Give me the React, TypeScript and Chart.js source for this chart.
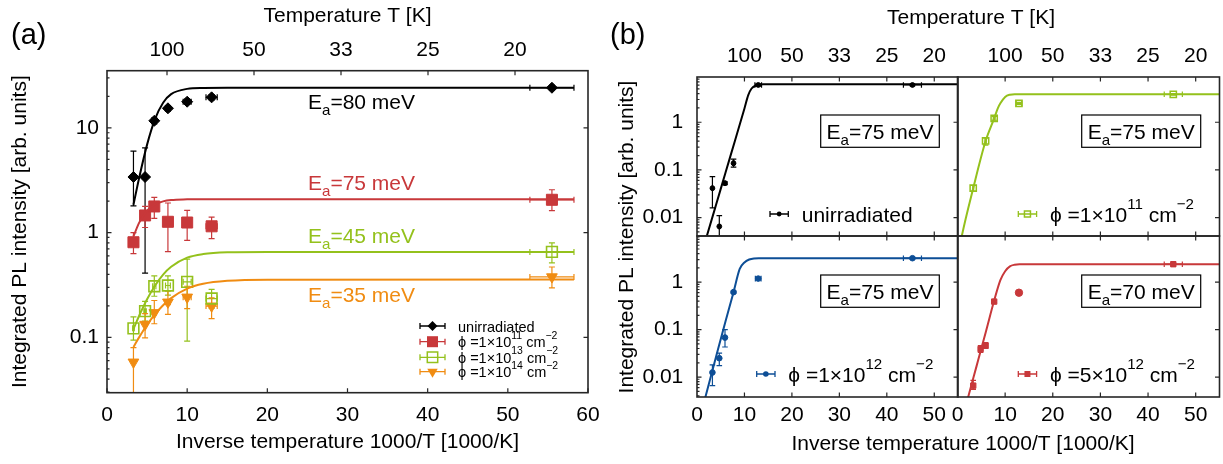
import React, { useEffect, useRef } from 'react';
import { Chart, registerables } from 'chart.js';
Chart.register(...registerables);

const W = 1223;
const H = 464;
const FONT = "'Liberation Sans', Arial, Helvetica, sans-serif";

const BLACK = '#000000';
const RED = '#c8383a';
const GREEN = '#94c11c';
const ORANGE = '#f08c12';
const BLUE = '#0d4e96';
const FRAME = '#262626';

// ================= Panel (a) data =================
const aX = [3.3, 4.75, 5.9, 7.6, 10, 13.05, 55.5];
const aXErr = [0.1, 0.15, 0.2, 0.3, 0.5, 0.7, 2.75];
const aUnirr = [3.4, 3.4, 11.7, 15.4, 17.8, 19.6, 24.2];
const aUnirrLo = [1.8, 0.41, 10.9, 14.5, 16.8, 18.5, 23.0];
const aUnirrHi = [6.0, 6.45, 12.5, 16.3, 18.9, 20.8, 25.5];
const aPhi11 = [0.81, 1.46, 1.78, 1.27, 1.25, 1.15, 2.06];
const aPhi11Lo = [0.63, 1.12, 1.37, 0.66, 0.845, 0.877, 1.62];
const aPhi11Hi = [1.0, 1.78, 2.17, 1.92, 1.63, 1.41, 2.57];
const aPhi13 = [0.122, 0.178, 0.308, 0.313, 0.339, 0.235, 0.655];
const aPhi13Lo = [0.094, 0.143, 0.247, 0.253, 0.092, 0.189, 0.515];
const aPhi13Hi = [0.157, 0.221, 0.387, 0.387, 0.56, 0.287, 0.798];
const aPhi14 = [0.058, 0.133, 0.172, 0.217, 0.242, 0.199, 0.378];
const aPhi14Lo = [0.02, 0.099, 0.135, 0.166, 0.188, 0.151, 0.297];
const aPhi14Hi = [0.08, 0.169, 0.225, 0.276, 0.308, 0.239, 0.47];
const aFitX = [3.3, 4, 5, 6, 7, 8, 10, 12, 15, 20, 58.25];
const aFit80 = [1.85, 3.31, 6.93, 12.2, 17.4, 21.0, 23.6, 24.1, 24.2, 24.2, 24.2];
const aFit75 = [0.92, 1.24, 1.62, 1.86, 1.99, 2.05, 2.08, 2.09, 2.09, 2.09, 2.09];
const aFit45 = [0.12, 0.16, 0.231, 0.313, 0.398, 0.473, 0.577, 0.625, 0.649, 0.655, 0.655];
const aFit35 = [0.081, 0.1, 0.132, 0.167, 0.203, 0.237, 0.292, 0.325, 0.347, 0.356, 0.357];
const aXTicks = [0, 10, 20, 30, 40, 50, 60];
const aXTickLabels = ['0', '10', '20', '30', '40', '50', '60'];
const aYTicks = [0.1, 1, 10];
const aYTickLabels = ['0.1', '1', '10'];
const aTTicks = [10, 20, 30, 40, 50];
const aTTickLabels = ['100', '50', '33', '25', '20'];

// ================= Panel (b) data =================
const bXTicks = [0, 10, 20, 30, 40, 50];
const bXTickLabels = ['0', '10', '20', '30', '40', '50'];
const bTTicks = [10, 20, 30, 40, 50];
const bTTickLabels = ['100', '50', '33', '25', '20'];
const bYTicks = [0.01, 0.1, 1];
const bYTickLabels = ['0.01', '0.1', '1'];

// top-left: unirradiated
const tlX = [3.25, 4.7, 5.9, 7.7, 12.9, 45.4];
const tlY = [0.0413, 0.0065, 0.0525, 0.138, 6.05, 6.05];
const tlLo = [0.016, 0.002, 0.049, 0.114, 5.75, 5.8];
const tlHi = [0.072, 0.011, 0.056, 0.168, 6.35, 6.3];
const tlXErr = [0.1, 0.1, 0.15, 0.2, 0.7, 1.9];
const tlFitX = [1.2, 2.04, 4, 6, 8, 10, 10.8, 11.5, 12.5, 14, 55];
const tlFitY = [0.0021, 0.004, 0.0183, 0.087, 0.41, 1.95, 3.7, 5.1, 5.95, 6.26, 6.26];

// top-right: 1e11
const trX = [3.3, 5.9, 7.7, 12.9, 45.3];
const trY = [0.0413, 0.405, 1.21, 2.5, 3.86];
const trLo = [0.036, 0.33, 1.1, 2.38, 3.7];
const trHi = [0.047, 0.47, 1.33, 2.62, 4.0];
const trXErr = [0.1, 0.15, 0.2, 0.6, 1.9];
const trFitX = [0.4, 0.88, 3.3, 5.9, 7.7, 8.5, 9, 10, 11, 12, 55];
const trFitY = [0.0022, 0.004, 0.0413, 0.405, 1.21, 2.0, 2.5, 3.4, 3.78, 3.86, 3.86];

// bottom-left: 1e12
const blX = [3.25, 4.7, 5.9, 7.7, 12.9, 45.4];
const blY = [0.0125, 0.025, 0.068, 0.616, 1.19, 3.2];
const blLo = [0.0066, 0.0174, 0.043, 0.58, 1.13, 3.05];
const blHi = [0.018, 0.032, 0.1, 0.65, 1.25, 3.35];
const blXErr = [0.1, 0.1, 0.15, 0.2, 0.6, 1.9];
const blFitX = [1.2, 1.83, 4, 6, 7.7, 9, 10, 11, 12, 13, 55];
const blFitY = [0.0024, 0.004, 0.0264, 0.148, 0.616, 1.9, 2.6, 3.0, 3.17, 3.2, 3.2];

// bottom-right: 5e12
const brX = [3.3, 4.85, 5.9, 7.7, 12.9, 45.3];
const brY = [0.0066, 0.039, 0.046, 0.39, 0.6, 2.39];
const brLo = [0.0055, 0.033, 0.04, 0.37, 0.6, 2.3];
const brHi = [0.0085, 0.046, 0.053, 0.41, 0.6, 2.48];
const brXErr = [0.1, 0.15, 0.2, 0.2, 0, 1.9];
const brFitX = [1.5, 2.3, 4, 6, 7.7, 9, 10, 11, 12, 13, 55];
const brFitY = [0.002, 0.004, 0.017, 0.094, 0.41, 1.1, 1.7, 2.15, 2.33, 2.39, 2.39];

// ================= helpers =================
type Part = { t: string; s?: 'sub' | 'sup' };
type TextItem = {
  parts: Part[]; x: number; y: number; size: number; color?: string;
  align?: 'left' | 'center' | 'right'; baseline?: 'alphabetic' | 'middle'; rotate?: number;
};
type ErrSet = { xs: number[]; ys: number[]; lo?: number[]; hi?: number[]; xerr?: number[]; color: string; cap: number; width: number };
type TickSet = { side: 'bottom' | 'top' | 'left' | 'right'; scale: string; values: number[]; len: number };
type LegendItem = { x1: number; x2: number; y: number; marker: string; r: number; color: string; cap: number; textX: number; textY: number; size: number; parts: Part[] };
type Decor = { errors?: ErrSet[]; ticks?: TickSet[]; texts?: TextItem[]; boxes?: number[][]; legend?: LegendItem[] };

const fnt = (size: number) => `${size}px ${FONT}`;

function drawRich(ctx: CanvasRenderingContext2D, it: TextItem) {
  const { parts, size } = it;
  const sz = (p: Part) => (p.s ? size * 0.72 : size);
  const widths = parts.map((p) => { ctx.font = fnt(sz(p)); return ctx.measureText(p.t).width; });
  const total = widths.reduce((a, b) => a + b, 0);
  ctx.save();
  ctx.translate(it.x, it.y);
  if (it.rotate) ctx.rotate(it.rotate);
  let cx = it.align === 'center' ? -total / 2 : it.align === 'right' ? -total : 0;
  ctx.fillStyle = it.color || '#000';
  ctx.textBaseline = it.baseline || 'alphabetic';
  ctx.textAlign = 'left';
  parts.forEach((p, i) => {
    ctx.font = fnt(sz(p));
    const dy = p.s === 'sub' ? size * 0.3 : p.s === 'sup' ? -size * 0.6 : 0;
    ctx.fillText(p.t, cx, dy);
    cx += widths[i];
  });
  ctx.restore();
}

function drawMarker(ctx: CanvasRenderingContext2D, kind: string, x: number, y: number, r: number, color: string) {
  ctx.save();
  ctx.fillStyle = color;
  ctx.strokeStyle = color;
  ctx.lineWidth = 1.5;
  ctx.beginPath();
  if (kind === 'diamond') {
    ctx.moveTo(x, y - r); ctx.lineTo(x + r, y); ctx.lineTo(x, y + r); ctx.lineTo(x - r, y); ctx.closePath(); ctx.fill();
  } else if (kind === 'square') {
    ctx.rect(x - r, y - r, 2 * r, 2 * r); ctx.fill();
  } else if (kind === 'osquare') {
    ctx.rect(x - r, y - r, 2 * r, 2 * r); ctx.stroke();
  } else if (kind === 'tridown') {
    ctx.moveTo(x - r * 0.87, y - r * 0.5); ctx.lineTo(x + r * 0.87, y - r * 0.5); ctx.lineTo(x, y + r); ctx.closePath(); ctx.fill();
  } else {
    ctx.arc(x, y, r, 0, Math.PI * 2); ctx.fill();
  }
  ctx.restore();
}

function makeDecor(cfg: Decor) {
  return {
    id: 'decor',
    beforeDatasetsDraw(chart: any) {
      const { ctx, chartArea: a } = chart;
      const xs = chart.scales.x;
      const ys = chart.scales.y;
      ctx.save();
      ctx.beginPath();
      ctx.rect(a.left, a.top, a.right - a.left, a.bottom - a.top);
      ctx.clip();
      for (const e of cfg.errors || []) {
        ctx.strokeStyle = e.color;
        ctx.lineWidth = e.width;
        e.xs.forEach((xv, i) => {
          const px = xs.getPixelForValue(xv);
          const py = ys.getPixelForValue(e.ys[i]);
          ctx.beginPath();
          if (e.lo && e.hi) {
            const p1 = ys.getPixelForValue(e.lo[i]);
            const p2 = ys.getPixelForValue(e.hi[i]);
            ctx.moveTo(px, p1); ctx.lineTo(px, p2);
            ctx.moveTo(px - e.cap, p1); ctx.lineTo(px + e.cap, p1);
            ctx.moveTo(px - e.cap, p2); ctx.lineTo(px + e.cap, p2);
          }
          if (e.xerr && e.xerr[i] > 0) {
            const q1 = xs.getPixelForValue(xv - e.xerr[i]);
            const q2 = xs.getPixelForValue(xv + e.xerr[i]);
            ctx.moveTo(q1, py); ctx.lineTo(q2, py);
            ctx.moveTo(q1, py - e.cap); ctx.lineTo(q1, py + e.cap);
            ctx.moveTo(q2, py - e.cap); ctx.lineTo(q2, py + e.cap);
          }
          ctx.stroke();
        });
      }
      ctx.restore();
    },
    afterDatasetsDraw(chart: any) {
      const { ctx, chartArea: a } = chart;
      ctx.save();
      ctx.strokeStyle = FRAME;
      ctx.lineWidth = 1.2;
      ctx.beginPath();
      for (const t of cfg.ticks || []) {
        const s = chart.scales[t.scale];
        for (const v of t.values) {
          const p = s.getPixelForValue(v);
          if (t.side === 'bottom') { ctx.moveTo(p, a.bottom); ctx.lineTo(p, a.bottom - t.len); }
          if (t.side === 'top') { ctx.moveTo(p, a.top); ctx.lineTo(p, a.top + t.len); }
          if (t.side === 'left') { ctx.moveTo(a.left, p); ctx.lineTo(a.left + t.len, p); }
          if (t.side === 'right') { ctx.moveTo(a.right, p); ctx.lineTo(a.right - t.len, p); }
        }
      }
      ctx.stroke();
      ctx.lineWidth = 1.6;
      ctx.strokeRect(a.left, a.top, a.right - a.left, a.bottom - a.top);
      ctx.restore();
    },
    afterDraw(chart: any) {
      const { ctx } = chart;
      ctx.save();
      for (const b of cfg.boxes || []) {
        ctx.strokeStyle = '#000';
        ctx.lineWidth = 1.2;
        ctx.strokeRect(b[0], b[1], b[2] - b[0], b[3] - b[1]);
      }
      for (const l of cfg.legend || []) {
        ctx.strokeStyle = l.color;
        ctx.lineWidth = 1.3;
        ctx.beginPath();
        ctx.moveTo(l.x1, l.y); ctx.lineTo(l.x2, l.y);
        ctx.moveTo(l.x1, l.y - l.cap); ctx.lineTo(l.x1, l.y + l.cap);
        ctx.moveTo(l.x2, l.y - l.cap); ctx.lineTo(l.x2, l.y + l.cap);
        ctx.stroke();
        drawMarker(ctx, l.marker, (l.x1 + l.x2) / 2, l.y, l.r, l.color);
        drawRich(ctx, { parts: l.parts, x: l.textX, y: l.textY, size: l.size, color: '#000' });
      }
      for (const t of cfg.texts || []) drawRich(ctx, t);
      ctx.restore();
    },
  };
}

function linScale(o: {
  position: 'bottom' | 'top'; min: number; max: number; ticks: number[]; labels: string[];
  show: boolean; pad: number; height: number; title?: string; titlePad?: any;
}) {
  return {
    type: 'linear', axis: 'x', position: o.position, min: o.min, max: o.max,
    grid: { display: false, drawTicks: false },
    border: { display: false },
    ticks: {
      display: o.show, padding: o.pad, autoSkip: false, maxRotation: 0, minRotation: 0,
      font: { family: FONT, size: 21 }, color: '#000',
      callback: (_v: any, i: number) => o.labels[i],
    },
    afterBuildTicks: (s: any) => { s.ticks = o.ticks.map((v) => ({ value: v })); },
    afterFit: (s: any) => { s.height = o.height; },
    title: o.title
      ? { display: true, text: o.title, color: '#000', font: { family: FONT, size: 21 }, padding: o.titlePad }
      : { display: false },
  };
}

function logScale(o: {
  min: number; max: number; ticks: number[]; labels: string[]; show: boolean; pad: number; width: number;
  title?: string; titlePad?: any;
}) {
  return {
    type: 'logarithmic', axis: 'y', position: 'left', min: o.min, max: o.max,
    grid: { display: false, drawTicks: false },
    border: { display: false },
    ticks: {
      display: o.show, padding: o.pad, autoSkip: false,
      font: { family: FONT, size: 21 }, color: '#000',
      callback: (_v: any, i: number) => o.labels[i],
    },
    afterBuildTicks: (s: any) => { s.ticks = o.ticks.map((v) => ({ value: v })); },
    afterFit: (s: any) => { s.width = o.width; },
    title: o.title
      ? { display: true, text: o.title, color: '#000', font: { family: FONT, size: 21 }, padding: o.titlePad }
      : { display: false },
  };
}

function logMinors(min: number, max: number) {
  const out: number[] = [];
  for (let e = -4; e <= 2; e++) {
    for (let k = 2; k <= 9; k++) {
      const v = k * Math.pow(10, e);
      if (v > min && v < max) out.push(v);
    }
  }
  return out;
}

const pts = (xs: number[], ys: number[]) => xs.map((x, i) => ({ x, y: ys[i] }));

function marks(xs: number[], ys: number[], color: string, style: string, r: number, extra: any = {}) {
  return {
    data: pts(xs, ys), showLine: false, pointStyle: style, pointRadius: r, pointHoverRadius: r,
    pointBackgroundColor: color, pointBorderColor: color, pointBorderWidth: 1,
    borderColor: color, backgroundColor: color, ...extra,
  };
}

function fitLine(xs: number[], ys: number[], color: string) {
  return {
    data: pts(xs, ys), showLine: true, pointRadius: 0, pointHoverRadius: 0, borderColor: color, borderWidth: 2,
    cubicInterpolationMode: 'monotone', capBezierPoints: false, fill: false, clip: 0,
  };
}

function makeChart(canvas: HTMLCanvasElement, datasets: any[], scales: any, padding: any, decor: Decor) {
  return new Chart(canvas, {
    type: 'line',
    data: { datasets },
    options: {
      responsive: false, animation: false, devicePixelRatio: 1, events: [],
      layout: { padding, autoPadding: false },
      plugins: { legend: { display: false }, tooltip: { enabled: false }, title: { display: false } },
      scales,
    } as any,
    plugins: [makeDecor(decor) as any],
  });
}

const PHI = '\u03D5';
const phiParts = (m: string, e: string): Part[] => [
  { t: `${PHI} =${m}×10` }, { t: e, s: 'sup' }, { t: ' cm' }, { t: '−2', s: 'sup' },
];
const eaParts = (v: string): Part[] => [{ t: 'E' }, { t: 'a', s: 'sub' }, { t: `=${v} meV` }];

// y ranges
const aYMin = 0.02964, aYMax = 35.2;
const bTopMin = 0.0041, bTopMax = 8.9;
const bBotMin = 0.0038, bBotMax = 9.4;

export default function App() {
  const refA = useRef<HTMLCanvasElement>(null);
  const refTL = useRef<HTMLCanvasElement>(null);
  const refTR = useRef<HTMLCanvasElement>(null);
  const refBL = useRef<HTMLCanvasElement>(null);
  const refBR = useRef<HTMLCanvasElement>(null);

  useEffect(() => {
    const charts: Chart[] = [];

    // ---------- Panel (a) ----------
    const aErr = (ys: number[], lo: number[], hi: number[], color: string): ErrSet =>
      ({ xs: aX, ys, lo, hi, xerr: aXErr, color, cap: 3, width: 1.2 });
    const legRow = (y: number, marker: string, r: number, color: string, parts: Part[]): LegendItem =>
      ({ x1: 420, x2: 445, y, marker, r, color, cap: 3, textX: 458, textY: y + 5.5, size: 14.5, parts });
    charts.push(makeChart(
      refA.current!,
      [
        fitLine(aFitX, aFit80, BLACK),
        fitLine(aFitX, aFit75, RED),
        fitLine(aFitX, aFit45, GREEN),
        fitLine(aFitX, aFit35, ORANGE),
        marks(aX, aUnirr, BLACK, 'rectRot', 5.5),
        marks(aX, aPhi11, RED, 'rect', 7.8),
        marks(aX, aPhi13, GREEN, 'rect', 7.6, { pointBackgroundColor: 'rgba(0,0,0,0)', pointBorderWidth: 1.6 }),
        marks(aX, aPhi14, ORANGE, 'triangle', 6.2, { pointRotation: 180 }),
      ],
      {
        x: linScale({ position: 'bottom', min: 0, max: 60, ticks: aXTicks, labels: aXTickLabels, show: true, pad: 10.2, height: 61.9,
          title: 'Inverse temperature 1000/T [1000/K]', titlePad: { top: 0, bottom: 0 } }),
        x2: linScale({ position: 'top', min: 3.103, max: 58.39, ticks: aTTicks, labels: aTTickLabels, show: true, pad: 7.4, height: 70.7,
          title: 'Temperature T [K]', titlePad: { top: 4, bottom: 0 } }),
        y: logScale({ min: aYMin, max: aYMax, ticks: aYTicks, labels: aYTickLabels, show: true, pad: 8, width: 107,
          title: 'Integrated PL intensity [arb. units]', titlePad: { top: 7.4, bottom: 0 } }),
      },
      { left: 0, right: W - 588, top: 0, bottom: H - 392.7 - 61.9 },
      {
        errors: [
          aErr(aUnirr, aUnirrLo, aUnirrHi, BLACK),
          aErr(aPhi11, aPhi11Lo, aPhi11Hi, RED),
          aErr(aPhi13, aPhi13Lo, aPhi13Hi, GREEN),
          aErr(aPhi14, aPhi14Lo, aPhi14Hi, ORANGE),
        ],
        ticks: [
          { side: 'bottom', scale: 'x', values: aXTicks, len: 4.5 },
          { side: 'top', scale: 'x2', values: aTTicks, len: 4.5 },
          { side: 'left', scale: 'y', values: aYTicks, len: 4.5 },
          { side: 'left', scale: 'y', values: logMinors(aYMin, aYMax), len: 2.5 },
          { side: 'right', scale: 'y', values: aYTicks, len: 4.5 },
        ],
        texts: [
          { parts: [{ t: '(a)' }], x: 11, y: 44, size: 29 },
          { parts: eaParts('80'), x: 308, y: 108.5, size: 21, color: BLACK },
          { parts: eaParts('75'), x: 308, y: 190, size: 21, color: RED },
          { parts: eaParts('45'), x: 308, y: 243, size: 21, color: GREEN },
          { parts: eaParts('35'), x: 308, y: 302, size: 21, color: ORANGE },
        ],
        legend: [
          legRow(326, 'diamond', 5, BLACK, [{ t: 'unirradiated' }]),
          legRow(341.7, 'square', 5.5, RED, phiParts('1', '11')),
          legRow(357.3, 'osquare', 5.2, GREEN, phiParts('1', '13')),
          legRow(371.7, 'tridown', 6, ORANGE, phiParts('1', '14')),
        ],
      },
    ));

    // ---------- Panel (b) ----------
    const bLeftPad = 637, bLeftW = 60, bRightPadL = 947.5, bRightW = 10;
    const xB = (show: boolean, height: number) =>
      linScale({ position: 'bottom', min: 0, max: 55, ticks: bXTicks, labels: bXTickLabels, show, pad: 5.9, height });
    const xT = () => linScale({ position: 'top', min: 0, max: 55, ticks: bTTicks, labels: bTTickLabels, show: true, pad: 7.7, height: 40 });
    const yB = (min: number, max: number, show: boolean) =>
      logScale({ min, max, ticks: bYTicks, labels: bYTickLabels, show, pad: 13.7, width: show ? bLeftW : bRightW });
    const bErr = (xs: number[], ys: number[], lo: number[], hi: number[], xerr: number[], color: string): ErrSet =>
      ({ xs, ys, lo, hi, xerr, color, cap: 2.8, width: 1.2 });
    const bTicks = (top: boolean, min: number, max: number, leftSide: boolean): TickSet[] => {
      const t: TickSet[] = [
        { side: 'bottom', scale: 'x', values: [10, 20, 30, 40, 50], len: 4.5 },
        { side: 'top', scale: 'x', values: [10, 20, 30, 40, 50], len: 4.5 },
        { side: 'right', scale: 'y', values: bYTicks, len: 4.5 },
      ];
      if (leftSide) {
        t.push({ side: 'left', scale: 'y', values: bYTicks, len: 4.5 });
        t.push({ side: 'left', scale: 'y', values: logMinors(min, max), len: 2.5 });
      }
      return t;
    };
    const bLeg = (x1: number, y: number, marker: string, r: number, color: string, textX: number, parts: Part[]): LegendItem =>
      ({ x1, x2: x1 + 18.3, y, marker, r, color, cap: 3, textX, textY: y + 7.5, size: 21, parts });

    // top-left
    charts.push(makeChart(
      refTL.current!,
      [fitLine(tlFitX, tlFitY, BLACK), marks(tlX, tlY, BLACK, 'circle', 2.4)],
      { x: xB(false, 10), x2: xT(), y: yB(bTopMin, bTopMax, true) },
      { left: bLeftPad, right: W - 958, top: 37, bottom: H - 236 - 10 },
      {
        errors: [bErr(tlX, tlY, tlLo, tlHi, tlXErr, BLACK)],
        ticks: bTicks(true, bTopMin, bTopMax, true),
        boxes: [[820.7, 115, 939.3, 147.3]],
        texts: [
          { parts: [{ t: '(b)' }], x: 610, y: 44, size: 29 },
          { parts: [{ t: 'Temperature T [K]' }], x: 971, y: 24, size: 21, align: 'center' },
          { parts: [{ t: 'Inverse temperature 1000/T [1000/K]' }], x: 963, y: 449.5, size: 21, align: 'center' },
          { parts: [{ t: 'Integrated PL intensity [arb. units]' }], x: 627, y: 237, size: 21, align: 'center', baseline: 'middle', rotate: -Math.PI / 2 },
          { parts: eaParts('75'), x: 880, y: 138.5, size: 21, align: 'center' },
        ],
        legend: [bLeg(770, 214, 'circle', 2.4, BLACK, 801.7, [{ t: 'unirradiated' }])],
      },
    ));

    // top-right
    charts.push(makeChart(
      refTR.current!,
      [fitLine(trFitX, trFitY, GREEN), marks(trX, trY, GREEN, 'rect', 4.4, { pointBackgroundColor: 'rgba(0,0,0,0)', pointBorderWidth: 1.5 })],
      { x: xB(false, 10), x2: xT(), y: yB(bTopMin, bTopMax, false) },
      { left: bRightPadL, right: W - 1219.5, top: 37, bottom: H - 236 - 10 },
      {
        errors: [bErr(trX, trY, trLo, trHi, trXErr, GREEN)],
        ticks: bTicks(true, bTopMin, bTopMax, false),
        boxes: [[1081.7, 115, 1200.7, 147.3]],
        texts: [{ parts: eaParts('75'), x: 1141.2, y: 138.5, size: 21, align: 'center' }],
        legend: [bLeg(1018.3, 214, 'osquare', 3, GREEN, 1050, phiParts('1', '11'))],
      },
    ));

    // bottom-left
    charts.push(makeChart(
      refBL.current!,
      [fitLine(blFitX, blFitY, BLUE), marks(blX, blY, BLUE, 'circle', 2.8)],
      { x: xB(true, 40), y: yB(bBotMin, bBotMax, true) },
      { left: bLeftPad, right: W - 958, top: 236, bottom: H - 397 - 40 },
      {
        errors: [bErr(blX, blY, blLo, blHi, blXErr, BLUE)],
        ticks: bTicks(false, bBotMin, bBotMax, true),
        boxes: [[820.7, 275, 939.3, 307.3]],
        texts: [{ parts: eaParts('75'), x: 880, y: 298.5, size: 21, align: 'center' }],
        legend: [bLeg(756.7, 374, 'circle', 2.8, BLUE, 788.3, phiParts('1', '12'))],
      },
    ));

    // bottom-right
    charts.push(makeChart(
      refBR.current!,
      [
        fitLine(brFitX, brFitY, RED),
        marks(brX, brY, RED, ['rect', 'rect', 'rect', 'rect', 'circle', 'rect'] as any, [3.8, 3.8, 3.8, 3.8, 3.7, 3.8] as any),
      ],
      { x: xB(true, 40), y: yB(bBotMin, bBotMax, false) },
      { left: bRightPadL, right: W - 1219.5, top: 236, bottom: H - 397 - 40 },
      {
        errors: [bErr(brX, brY, brLo, brHi, brXErr, RED)],
        ticks: bTicks(false, bBotMin, bBotMax, false),
        boxes: [[1081.7, 275, 1200.7, 307.3]],
        texts: [{ parts: eaParts('70'), x: 1141.2, y: 298.5, size: 21, align: 'center' }],
        legend: [bLeg(1018.3, 374, 'square', 3, RED, 1050, phiParts('5', '12'))],
      },
    ));

    return () => charts.forEach((c) => c.destroy());
  }, []);

  const refs = [refA, refTL, refTR, refBL, refBR];
  return (
    <div style={{ position: 'absolute', left: 0, top: 0, width: W, height: H, background: '#fff', overflow: 'hidden' }}>
      {refs.map((r, i) => (
        <canvas key={i} ref={r} width={W} height={H} style={{ position: 'absolute', left: 0, top: 0, width: W, height: H }} />
      ))}
    </div>
  );
}
